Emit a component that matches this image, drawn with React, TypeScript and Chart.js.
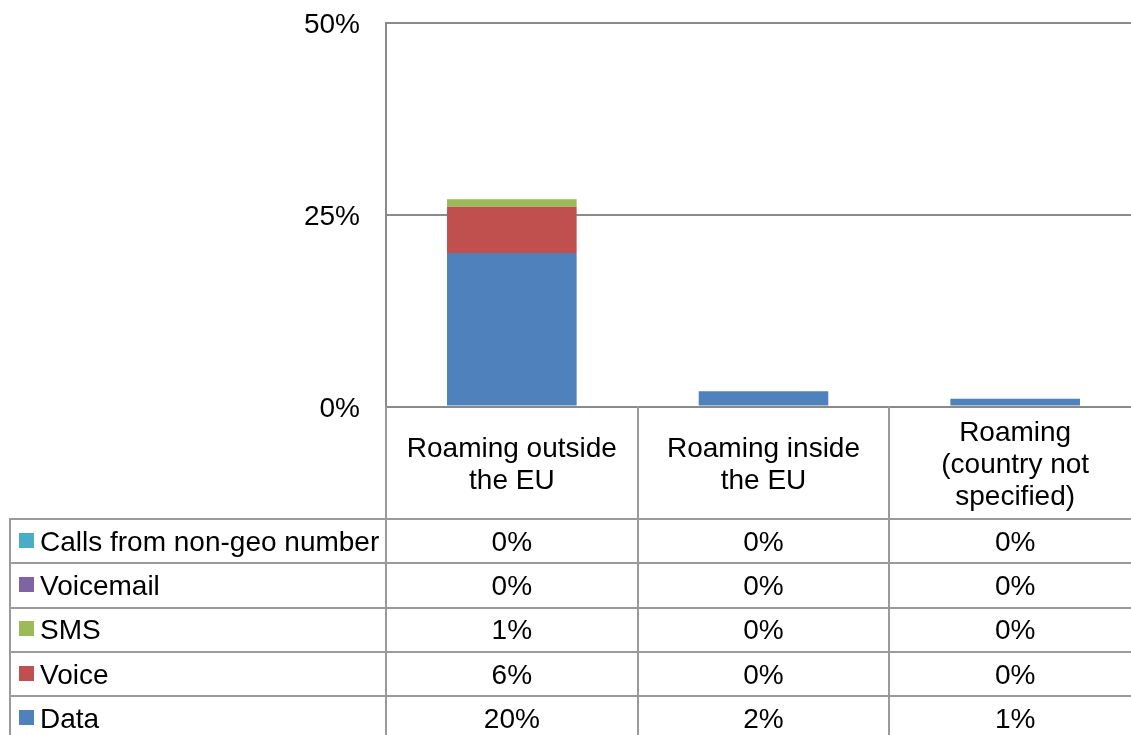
import React, { useEffect, useRef } from "react";
import { Chart, registerables } from "chart.js";

Chart.register(...registerables);

const categories: string[][] = [
  ["Roaming outside", "the EU"],
  ["Roaming inside", "the EU"],
  ["Roaming", "(country not", "specified)"],
];
const seriesNames = ["Data", "Voice", "SMS", "Voicemail", "Calls from non-geo number"];
const seriesColors = ["#4f81bd", "#c0504d", "#9bbb59", "#8064a2", "#4bacc6"];
const dataValues = [20, 2, 1];
const voiceValues = [6, 0, 0];
const smsValues = [1, 0, 0];
const voicemailValues = [0, 0, 0];
const callsValues = [0, 0, 0];
const yTicks = [0, 25, 50];

const seriesValues = [dataValues, voiceValues, smsValues, voicemailValues, callsValues];

const FONT = '"Liberation Sans", Arial, sans-serif';
const AXIS = "#8a8a8a";
const TABLE = "#9a9a9a";

const tablePlugin = {
  id: "dataTable",
  afterDraw(chart: any) {
    const ctx = chart.ctx as CanvasRenderingContext2D;
    const area = chart.chartArea;
    const xs = chart.scales.x;
    const H = chart.height;
    const n = categories.length;
    const colW = (area.right - area.left) / n;
    const tableTop = area.bottom + 112.5;
    const rowH = 44.3;
    const tableLeft = 10;

    ctx.save();
    ctx.lineWidth = 2;
    ctx.strokeStyle = TABLE;
    ctx.beginPath();
    ctx.moveTo(area.left, area.bottom);
    ctx.lineTo(area.left, H);
    for (let i = 1; i <= n; i++) {
      const x = Math.round(area.left + i * colW);
      ctx.moveTo(x, area.bottom);
      ctx.lineTo(x, H);
    }
    ctx.moveTo(tableLeft, tableTop);
    ctx.lineTo(tableLeft, H);
    for (let r = 0; r <= seriesNames.length; r++) {
      const y = Math.round(tableTop + r * rowH);
      ctx.moveTo(tableLeft - 1, y);
      ctx.lineTo(area.right, y);
    }
    ctx.stroke();

    ctx.fillStyle = "#000";
    ctx.font = `28px ${FONT}`;
    ctx.textAlign = "center";
    ctx.textBaseline = "middle";
    const headerMid = (area.bottom + tableTop) / 2 + 3;
    categories.forEach((lines, i) => {
      const cx = xs.getPixelForValue(i);
      lines.forEach((ln, j) => {
        ctx.fillText(ln, cx, headerMid + (j - (lines.length - 1) / 2) * 32);
      });
    });

    const order = seriesNames.map((_, i) => seriesNames.length - 1 - i);
    order.forEach((si, r) => {
      const rowMid = tableTop + r * rowH + rowH / 2;
      const cy = rowMid + 2;
      ctx.fillStyle = seriesColors[si];
      ctx.fillRect(19, Math.round(rowMid - 8.5), 15, 15);
      ctx.fillStyle = "#000";
      ctx.textAlign = "left";
      ctx.fillText(seriesNames[si], 40, cy);
      ctx.textAlign = "center";
      seriesValues[si].forEach((v, i) => {
        ctx.fillText(`${v}%`, xs.getPixelForValue(i), cy);
      });
    });
    ctx.restore();
  },
};

export default function App() {
  const ref = useRef<HTMLCanvasElement | null>(null);
  useEffect(() => {
    if (!ref.current) return;
    const chart = new Chart(ref.current, {
      type: "bar",
      data: {
        labels: categories.map((c) => c.join(" ")),
        datasets: seriesNames.map((name, i) => ({
          label: name,
          data: seriesValues[i],
          backgroundColor: seriesColors[i],
          borderWidth: 0,
          barPercentage: 1,
          categoryPercentage: 0.515,
        })),
      },
      options: {
        responsive: false,
        animation: false,
        devicePixelRatio: 1,
        layout: { padding: { left: 0, right: 0, top: 22.5, bottom: 328.5 } },
        plugins: { legend: { display: false }, tooltip: { enabled: false } },
        scales: {
          x: {
            stacked: true,
            grid: { display: false },
            border: { display: true, color: AXIS, width: 2 },
            ticks: { display: false },
            afterFit: (s: any) => {
              s.height = 0;
              s.paddingLeft = 0;
              s.paddingRight = 0;
            },
          },
          y: {
            stacked: true,
            min: 0,
            max: 50,
            afterBuildTicks: (s: any) => {
              s.ticks = yTicks.map((v) => ({ value: v }));
            },
            grid: { color: AXIS, lineWidth: 2, drawTicks: false },
            border: { display: true, color: AXIS, width: 2 },
            ticks: {
              padding: 26,
              labelOffset: 3,
              color: "#000",
              font: { family: FONT, size: 28 },
              callback: (v: any) => `${v}%`,
            },
            afterFit: (s: any) => {
              s.width = 386;
              s.paddingTop = 0;
              s.paddingBottom = 0;
            },
          },
        },
      },
      plugins: [tablePlugin],
    } as any);
    return () => chart.destroy();
  }, []);
  return (
    <div style={{ position: "absolute", left: 0, top: 0, width: 1131, height: 735, overflow: "hidden", background: "#fff" }}>
      <canvas ref={ref} width={1141} height={735} style={{ width: 1141, height: 735, display: "block" }} />
    </div>
  );
}
